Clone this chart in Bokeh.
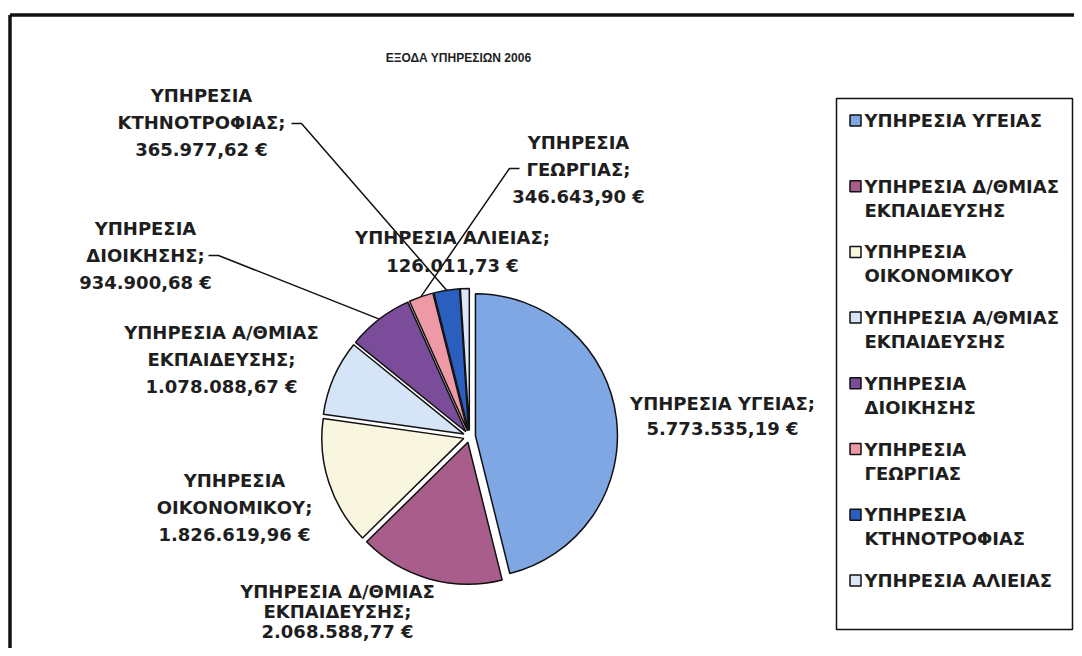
import numpy as np
from bokeh.plotting import figure
from bokeh.models import Range1d
from bokeh.core.properties import value
from bokeh.embed import file_html
from bokeh.resources import INLINE

# ---------------- data ----------------
title = "ΕΞΟΔΑ ΥΠΗΡΕΣΙΩΝ 2006"
categories = [
    "ΥΠΗΡΕΣΙΑ ΥΓΕΙΑΣ",
    "ΥΠΗΡΕΣΙΑ Δ/ΘΜΙΑΣ ΕΚΠΑΙΔΕΥΣΗΣ",
    "ΥΠΗΡΕΣΙΑ ΟΙΚΟΝΟΜΙΚΟΥ",
    "ΥΠΗΡΕΣΙΑ Α/ΘΜΙΑΣ ΕΚΠΑΙΔΕΥΣΗΣ",
    "ΥΠΗΡΕΣΙΑ ΔΙΟΙΚΗΣΗΣ",
    "ΥΠΗΡΕΣΙΑ ΓΕΩΡΓΙΑΣ",
    "ΥΠΗΡΕΣΙΑ ΚΤΗΝΟΤΡΟΦΙΑΣ",
    "ΥΠΗΡΕΣΙΑ ΑΛΙΕΙΑΣ",
]
values = [5773535.19, 2068588.77, 1826619.96, 1078088.67,
          934900.68, 346643.90, 365977.62, 126011.73]
colors = ["#7FA7E3", "#A95D8A", "#F8F6DF", "#D5E5F7",
          "#7B4C9A", "#EE9AA6", "#2B5FBF", "#DCE6F6"]
legend_labels = [
    ["ΥΠΗΡΕΣΙΑ ΥΓΕΙΑΣ"],
    ["ΥΠΗΡΕΣΙΑ Δ/ΘΜΙΑΣ", "ΕΚΠΑΙΔΕΥΣΗΣ"],
    ["ΥΠΗΡΕΣΙΑ", "ΟΙΚΟΝΟΜΙΚΟΥ"],
    ["ΥΠΗΡΕΣΙΑ Α/ΘΜΙΑΣ", "ΕΚΠΑΙΔΕΥΣΗΣ"],
    ["ΥΠΗΡΕΣΙΑ", "ΔΙΟΙΚΗΣΗΣ"],
    ["ΥΠΗΡΕΣΙΑ", "ΓΕΩΡΓΙΑΣ"],
    ["ΥΠΗΡΕΣΙΑ", "ΚΤΗΝΟΤΡΟΦΙΑΣ"],
    ["ΥΠΗΡΕΣΙΑ ΑΛΙΕΙΑΣ"],
]
label_heads = [
    ["ΥΠΗΡΕΣΙΑ ΥΓΕΙΑΣ;"],
    ["ΥΠΗΡΕΣΙΑ Δ/ΘΜΙΑΣ", "ΕΚΠΑΙΔΕΥΣΗΣ;"],
    ["ΥΠΗΡΕΣΙΑ", "ΟΙΚΟΝΟΜΙΚΟΥ;"],
    ["ΥΠΗΡΕΣΙΑ Α/ΘΜΙΑΣ", "ΕΚΠΑΙΔΕΥΣΗΣ;"],
    ["ΥΠΗΡΕΣΙΑ", "ΔΙΟΙΚΗΣΗΣ;"],
    ["ΥΠΗΡΕΣΙΑ", "ΓΕΩΡΓΙΑΣ;"],
    ["ΥΠΗΡΕΣΙΑ", "ΚΤΗΝΟΤΡΟΦΙΑΣ;"],
    ["ΥΠΗΡΕΣΙΑ ΑΛΙΕΙΑΣ;"],
]

# ---------------- layout (picture pixel coordinates) ----------------
FW, FH = 1074, 648
def Y(ry):
    return FH - ry

# label anchor: centre x, first line y, line step
label_pos = [(722, 403, 25), (337, 591, 20), (234, 480, 27), (221, 332, 27),
             (145, 228, 27), (578, 142, 27), (201, 95, 27), (452, 237, 28)]
leader_start = {4: [(208, 255), (218, 255)],
                5: [(519, 168), (509, 168)],
                6: [(291, 123), (301, 123)]}

FONT = value("DejaVu Sans")
TXT = "#1e1e1e"
FS = "18px"

def fmt(v):
    s = f"{v:,.2f}".replace(",", "X").replace(".", ",").replace("X", ".")
    return s + " €"

p = figure(width=FW, height=FH, x_range=Range1d(0, FW), y_range=Range1d(0, FH),
           output_backend="svg", toolbar_location=None, min_border=0,
           x_axis_location=None, y_axis_location=None)
p.grid.visible = False
p.outline_line_color = None
p.background_fill_color = "#FFFFFF"
p.border_fill_color = "#FFFFFF"

# frame lines (top and left)
p.line(x=[9.5, FW], y=[Y(14.5), Y(14.5)], line_color="#111111", line_width=3.5)
p.line(x=[9.5, 9.5], y=[Y(14.5), 0], line_color="#111111", line_width=3.5)

# title
p.text(x=[458], y=[Y(57)], text=[title], text_align="center", text_baseline="middle",
       text_font=value("Liberation Sans"), text_font_style="bold",
       text_font_size="12px", text_color=TXT)

# pie
vals = np.array(values)
frac = vals / vals.sum()
cum = np.concatenate([[0.0], np.cumsum(frac)]) * 2 * np.pi
a0, a1 = cum[:-1], cum[1:]
mid = (a0 + a1) / 2
CX, CY, R, EXPL = 469.0, Y(436), 142.0, 6.0
cx = CX + EXPL * np.sin(mid)
cy = CY + EXPL * np.cos(mid)
p.wedge(x=cx, y=cy, radius=R, start_angle=np.pi / 2 - a1, end_angle=np.pi / 2 - a0,
        fill_color=colors, line_color="#111111", line_width=1.5)

# leader lines
for i, pts in leader_start.items():
    ex = cx[i] + R * np.sin(mid[i])
    ey = cy[i] + R * np.cos(mid[i])
    xs = [pts[0][0], pts[1][0], ex]
    ys = [Y(pts[0][1]), Y(pts[1][1]), ey]
    p.line(x=xs, y=ys, line_color="#111111", line_width=1.5)

# data labels
lx, ly, lt = [], [], []
for i, head in enumerate(label_heads):
    x0, y0, step = label_pos[i]
    lines = head + [fmt(values[i])]
    for k, t in enumerate(lines):
        lx.append(x0)
        ly.append(Y(y0 + k * step))
        lt.append(t)
p.text(x=lx, y=ly, text=lt, text_align="center", text_baseline="middle",
       text_font=FONT, text_font_style="bold", text_font_size=FS, text_color=TXT)

# legend box
LX0, LX1, LY0, LY1 = 836, 1072, 98, 629
p.quad(left=[LX0], right=[LX1], top=[Y(LY0)], bottom=[Y(LY1)],
       fill_color="white", line_color="#111111", line_width=1.5)
ent_y = [120 + 65.7 * i for i in range(len(categories))]
p.rect(x=[855] * len(categories), y=[Y(v) for v in ent_y], width=11, height=11,
       fill_color=colors, line_color="#111111", line_width=1.5)
tx, ty, tt = [], [], []
for i, lab in enumerate(legend_labels):
    for k, t in enumerate(lab):
        tx.append(864)
        ty.append(Y(ent_y[i] + 24 * k))
        tt.append(t)
p.text(x=tx, y=ty, text=tt, text_align="left", text_baseline="middle",
       text_font=FONT, text_font_style="bold", text_font_size=FS, text_color=TXT)

open("out.html", "w").write(file_html(p, INLINE))
